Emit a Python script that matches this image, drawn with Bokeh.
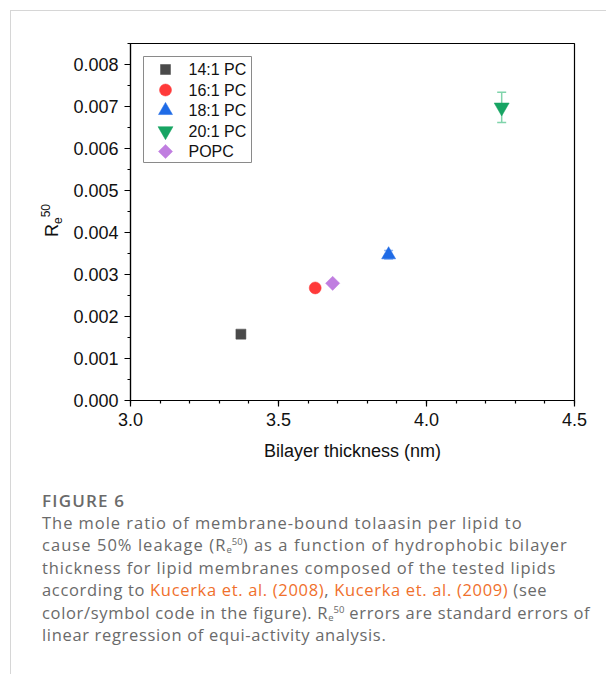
import math
from bokeh.plotting import figure
from bokeh.models import (ColumnDataSource, FixedTicker, PrintfTickFormatter,
                          Whisker, TeeHead, Range1d, Div, Column, Row)
from bokeh.core.properties import value
from bokeh.embed import file_html
from bokeh.resources import INLINE

# ---- data ----
lipids = ["14:1 PC", "16:1 PC", "18:1 PC", "20:1 PC", "POPC"]
thickness = [3.373, 3.624, 3.872, 4.254, 3.683]
re50 = [0.00158, 0.00268, 0.00347, 0.00698, 0.00279]
re50_err = [0.0, 0.0, 0.00010, 0.00036, 0.0]
markers = ["square", "circle", "triangle", "inverted_triangle", "square"]
angles = [0, 0, 0, 0, math.pi / 4]
sizes = [10, 12, 14, 15, 10]
colors = ["#4a4a4a", "#ff3a3a", "#1f6be6", "#17a463", "#c07ee0"]
err_colors = ["#9a9a9a", "#ff9a9a", "#8fb5f2", "#80d4ab", "#e0bff0"]
y_ticks = [0.000, 0.001, 0.002, 0.003, 0.004, 0.005, 0.006, 0.007, 0.008]
x_ticks = [3.0, 3.5, 4.0, 4.5]

YLAB_W = 58
W_FIG = 595 - YLAB_W
H_FIG = 469
FRAME_W = 444
FRAME_H = 357

p = figure(width=W_FIG, height=H_FIG, output_backend="svg", toolbar_location=None,
           x_range=Range1d(3.0, 4.5), y_range=Range1d(0.0, 0.0085),
           min_border_left=W_FIG - 32 - FRAME_W, min_border_right=32,
           min_border_top=32, min_border_bottom=H_FIG - 32 - FRAME_H)
p.background_fill_color = "white"
p.border_fill_color = "white"
p.outline_line_color = "black"
p.outline_line_width = 1.2
p.grid.visible = False
# pixel-like helper ranges for the in-frame key
p.extra_x_ranges = {"kx": Range1d(0, FRAME_W)}
p.extra_y_ranges = {"ky": Range1d(0, FRAME_H)}

# axes
p.xaxis.ticker = FixedTicker(ticks=x_ticks, minor_ticks=[3.0 + 0.1 * i for i in range(16)])
p.yaxis.ticker = FixedTicker(ticks=y_ticks, minor_ticks=[0.0005 * i for i in range(18)])
p.xaxis.formatter = PrintfTickFormatter(format="%.1f")
p.yaxis.formatter = PrintfTickFormatter(format="%.3f")
for ax in (p.xaxis[0], p.yaxis[0]):
    ax.axis_line_color = "black"
    ax.axis_line_width = 1.2
    ax.major_tick_line_color = "black"
    ax.minor_tick_line_color = "black"
    ax.major_tick_line_width = 1.2
    ax.minor_tick_line_width = 1.2
    ax.major_tick_in = 0
    ax.major_tick_out = 6
    ax.minor_tick_in = 0
    ax.minor_tick_out = 3
    ax.major_label_text_font = "Liberation Sans"
    ax.major_label_text_font_size = "18px"
    ax.major_label_text_color = "#111111"
p.xaxis.major_label_standoff = 6
p.yaxis.major_label_standoff = 6
p.xaxis.axis_label = "Bilayer thickness (nm)"
p.xaxis.axis_label_text_font = "Liberation Sans"
p.xaxis.axis_label_text_font_size = "18px"
p.xaxis.axis_label_text_font_style = "normal"
p.xaxis.axis_label_text_color = "#111111"
p.xaxis.axis_label_standoff = 12

# error bars
for i in range(len(lipids)):
    if re50_err[i] > 0:
        s = ColumnDataSource(dict(x=[thickness[i]], lower=[re50[i] - re50_err[i]], upper=[re50[i] + re50_err[i]]))
        wk = Whisker(source=s, base="x", lower="lower", upper="upper", dimension="height",
                     line_color=err_colors[i], line_width=1.5,
                     upper_head=TeeHead(size=9, line_color=err_colors[i], line_width=1.5),
                     lower_head=TeeHead(size=9, line_color=err_colors[i], line_width=1.5))
        p.add_layout(wk)

# points
pts = ColumnDataSource(dict(x=thickness, y=re50, marker=markers, size=sizes, angle=angles, color=colors))
p.scatter("x", "y", source=pts, marker="marker", size="size", angle="angle",
          fill_color="color", line_color="color", line_width=0.5)

# key (legend) drawn inside the frame: box, symbols, labels
KEY_L, KEY_R, KEY_T, KEY_B = 13, 121, FRAME_H - 13, FRAME_H - 119
ROW0, ROW_STEP = FRAME_H - 26, 20.5
p.quad(left=[KEY_L], right=[KEY_R], top=[KEY_T], bottom=[KEY_B], x_range_name="kx", y_range_name="ky",
       fill_color="white", line_color="#8a8a8a", line_width=1)
key = ColumnDataSource(dict(
    x=[35] * len(lipids), tx=[58] * len(lipids),
    y=[ROW0 - ROW_STEP * i for i in range(len(lipids))],
    label=lipids, marker=markers, size=sizes, angle=angles, color=colors))
p.scatter("x", "y", source=key, marker="marker", size="size", angle="angle",
          fill_color="color", line_color="color", line_width=0.5, x_range_name="kx", y_range_name="ky")
p.text("tx", "y", text="label", source=key, x_range_name="kx", y_range_name="ky",
       text_font=value("Liberation Sans"), text_font_size=value("16px"), text_color="#111111",
       text_baseline="middle", text_align="left")

# rotated y-axis title R_e^50 in a side block
ylab = Div(
    text=('<div style="padding:0;margin:0;height:%dpx;position:relative;">'
          '<div style="position:absolute;left:31px;top:226px;transform:rotate(-90deg);transform-origin:0 0;'
          'font-family:\'Liberation Sans\';font-size:18px;line-height:20px;color:#111;white-space:nowrap;">'
          'R<span style="font-size:12px;position:relative;top:4px;">e</span>'
          '<span style="font-size:12px;position:relative;top:-8px;">50</span></div></div>') % H_FIG,
    width=YLAB_W, height=H_FIG, margin=(0, 0, 0, 0))

sub = '<span style="font-size:9.5px;vertical-align:-2px;line-height:0;letter-spacing:0">e</span>'
sup = '<span style="font-size:9.5px;vertical-align:6px;line-height:0;letter-spacing:0">50</span>'
link = 'color:#f0702c'
lines = [
    ('0.96px', 'The mole ratio of membrane-bound tolaasin per lipid to'),
    ('1.05px', 'cause 50% leakage (R' + sub + sup + ') as a function of hydrophobic bilayer'),
    ('0.85px', 'thickness for lipid membranes composed of the tested lipids'),
    ('0.67px', 'according to <span style="' + link + '">Kucerka et. al. (2008)</span>, '
               '<span style="' + link + '">Kucerka et. al. (2009)</span> (see'),
    ('0.67px', 'color/symbol code in the figure). R' + sub + sup + ' errors are standard errors of'),
    ('0.67px', 'linear regression of equi-activity analysis.'),
]
body = ''.join('<div style="letter-spacing:%s;">%s</div>' % (ls, t) for ls, t in lines)
caption = (
    '<div style="font-family:\'Open Sans\';color:#6a6a6a;padding:5px 0 0 26px;">'
    '<div style="font-size:17px;font-weight:600;line-height:22px;letter-spacing:1.2px;color:#6a6a6a;">FIGURE 6</div>'
    '<div style="font-size:16.5px;line-height:22.4px;white-space:nowrap;">' + body + '</div></div>'
)
div = Div(text=caption, width=595, height=184)

layout = Column(children=[Row(children=[ylab, p], spacing=0), div], spacing=0,
                styles={"border-top": "1px solid #d6d6d6", "border-left": "1px solid #d6d6d6",
                        "margin-top": "10px", "margin-left": "10px", "background": "white"})

open("out.html", "w").write(file_html(layout, INLINE))
